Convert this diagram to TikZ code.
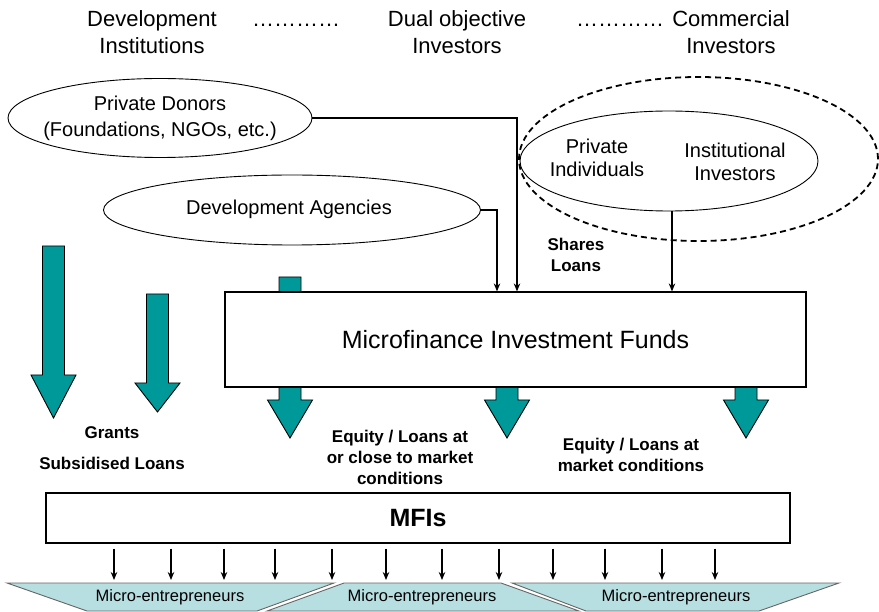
\documentclass[tikz,border=0pt]{standalone}
\usepackage{fontspec}
\setmainfont{Liberation Sans}
\usetikzlibrary{shapes.geometric,positioning,arrows.meta}
\definecolor{fundteal}{RGB}{0,153,153}
\definecolor{mepale}{RGB}{183,222,224}
\tikzset{
	oval/.style={draw,ellipse,line width=0.9pt,inner sep=0pt},
	flow/.style={->,line width=1.3pt},
	tealarr/.style={fill=fundteal,draw=black,line width=0.9pt},
	heading/.style={align=center,inner sep=0pt,font=\fontsize{22}{27}\selectfont},
	ovaltext/.style={align=center,inner sep=0pt,font=\fontsize{20}{25}\selectfont},
	boldlbl/.style={align=center,inner sep=0pt,font=\fontsize{17}{21}\selectfont\bfseries},
	fundbox/.style={draw,fill=white,line width=1.2pt,inner sep=0pt},
	meshape/.style={fill=mepale,draw=black!60,line width=0.9pt},
	metext/.style={inner sep=0pt,font=\fontsize{16.5}{19}\selectfont}
}
\begin{document}
\begin{tikzpicture}[>={Stealth[length=8pt,width=6.5pt]},x=1pt,y=-1pt]
		\useasboundingbox (0,0) rectangle (879,612);
		\clip (0,0) rectangle (879,612);
		\def\tealdown#1#2#3#4{\draw[tealarr] (#1-11,#2) -- (#1+11,#2) -- (#1+11,#3) -- (#1+22.5,#3) -- (#1,#4) -- (#1-22.5,#3) -- (#1-11,#3) -- cycle;}
		% headings
		\node[heading] (devinst) at (152,32) {Development\\Institutions};
		\node[heading,anchor=base] (dotsa) at (296,27) {…………};
		\node[heading] (dualinv) at (457,32) {Dual objective\\Investors};
		\node[heading,anchor=base] (dotsb) at (620,27) {…………};
		\node[heading] (comminv) at (731,32) {Commercial\\Investors};
		% sources
		\node[oval,minimum width=304,minimum height=79] (pd) at (160,118) {};
		\node[ovaltext,font=\fontsize{20}{26}\selectfont] (pdtext) at (pd.center) {Private Donors\\(Foundations, NGOs, etc.)};
		\node[oval,minimum width=377,minimum height=70] (da) at (292,210) {};
		\node[ovaltext] (datext) at (289,209) {Development Agencies};
		\node[oval,dash pattern=on 6pt off 4pt,line width=1.8pt,minimum width=359,minimum height=164] (com) at (698.5,159) {};
		\node[oval,minimum width=298,minimum height=100] (ii) at (669,161) {};
		\node[ovaltext,font=\fontsize{20}{23}\selectfont] (pitext) at (597,158) {Private\\Individuals};
		\node[ovaltext,font=\fontsize{20}{23}\selectfont] (iitext) at (735,162) {Institutional\\Investors};
		% block arrows
		\tealdown{53.5}{246}{375}{418}
		\tealdown{157.5}{294}{383}{412}
		\tealdown{290}{277}{400}{438}
		\tealdown{507}{370}{400}{438}
		\tealdown{746}{370}{400}{438}
		% funds
		\node[fundbox,minimum width=581,minimum height=95,font=\fontsize{25}{30}\selectfont] (mif) at (515.5,339.5) {Microfinance Investment Funds};
		\draw[flow] (pd.east) -| ([xshift=1.5pt]mif.north);
		\draw[flow] (da.east) -| ([xshift=-18.5pt]mif.north);
		\coordinate (iifoot) at ([xshift=3pt]ii.south);
		\draw[flow] (iifoot) -- (iifoot |- mif.north);
		\node[boldlbl] (shares) at (576,255) {Shares\\Loans};
		\node[boldlbl] (grants) at (112,448) {Grants\\[10pt]Subsidised Loans};
		\node[boldlbl] (eqclose) at (400,457) {Equity / Loans at\\or close to market\\conditions};
		\node[boldlbl] (eqmarket) at (631,455) {Equity / Loans at\\market conditions};
		% MFIs and micro-entrepreneurs
		\node[fundbox,minimum width=744,minimum height=50,font=\fontsize{25}{30}\selectfont\bfseries] (mfi) at (418,518) {MFIs};
		\draw[meshape] (7,583) -- (334,583) -- (257,611) -- (87,611) -- cycle;
		\draw[meshape] (344,583) -- (501,583) -- (579,611) -- (267,611) -- cycle;
		\draw[meshape] (512,583) -- (839,583) -- (759,611) -- (586,611) -- cycle;
		\coordinate (metop) at (0,583);
		\foreach \x in {114,171,224,275,332,386,442,499,553,605,662,715}
			\draw[flow,shorten <=5pt,shorten >=3pt] (\x,0 |- mfi.south) -- (\x,0 |- metop);
		\node[metext] (mea) at (170,597) {Micro-entrepreneurs};
		\node[metext] (meb) at (422,597) {Micro-entrepreneurs};
		\node[metext] (mec) at (676,597) {Micro-entrepreneurs};
		\end{tikzpicture}
\end{document}
